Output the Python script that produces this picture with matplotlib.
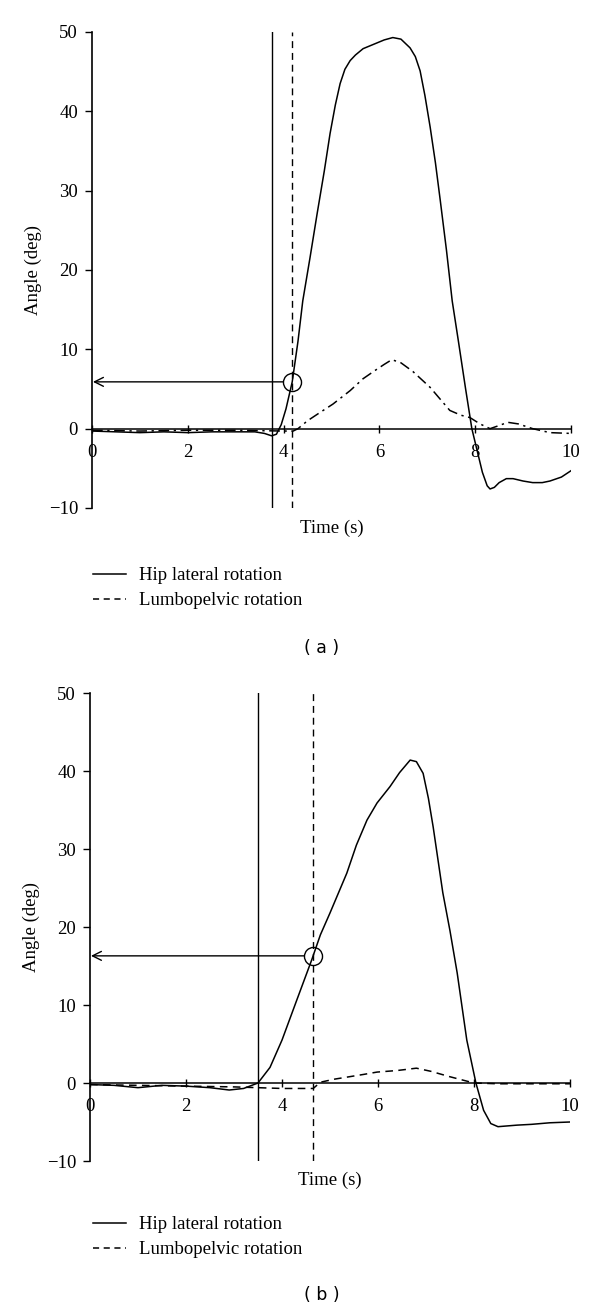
import numpy as np
import matplotlib.pyplot as plt
from matplotlib.lines import Line2D

plt.rcParams['font.family'] = ['Liberation Serif', 'DejaVu Serif']

## panel (a) data
t_hip_a = [0, 0.5, 1.0, 1.5, 2.0, 2.5, 3.0, 3.4, 3.6, 3.75, 3.85, 3.95, 4.05, 4.18, 4.3,
           4.4, 4.55, 4.7, 4.85, 4.97, 5.08, 5.18, 5.28, 5.39, 5.5, 5.66, 5.9, 6.1, 6.28,
           6.45, 6.64, 6.75, 6.85, 6.95, 7.06, 7.17, 7.27, 7.4, 7.52, 7.65, 7.8, 7.93,
           8.05, 8.15, 8.25, 8.31, 8.4, 8.5, 8.65, 8.79, 9.0, 9.2, 9.4, 9.56, 9.8, 10]
hip_a = [-0.3, -0.4, -0.5, -0.4, -0.5, -0.4, -0.4, -0.4, -0.6, -0.9, -0.7, 0.5, 2.5, 5.9,
         11, 16.1, 21.5, 27.1, 32.5, 37.2, 40.8, 43.5, 45.3, 46.4, 47.1, 47.9, 48.5, 49.0,
         49.3, 49.1, 48.0, 46.9, 45.1, 42.0, 38.0, 33.5, 28.8, 22.5, 16.1, 11, 5, 0, -3,
         -5.5, -7.2, -7.6, -7.4, -6.8, -6.3, -6.3, -6.6, -6.8, -6.8, -6.6, -6.1, -5.3]
t_lum_a = [0, 1, 2, 3, 4, 4.2, 4.3, 4.5, 4.75, 5.03, 5.39, 5.66, 5.9, 6.1, 6.26, 6.45, 6.7,
           7.06, 7.3, 7.47, 7.7, 7.89, 8.1, 8.31, 8.5, 8.68, 8.9, 9.2, 9.56, 10]
lum_a = [-0.2, -0.3, -0.2, -0.2, -0.3, -0.3, 0, 1.0, 2.0, 3.1, 4.8, 6.3, 7.3, 8.1, 8.7,
         8.3, 7.2, 5.2, 3.5, 2.3, 1.7, 1.4, 0.6, 0, 0.4, 0.8, 0.6, 0, -0.5, -0.6]
onset_hip_a = 3.76
onset_lum_a = 4.18
hip_at_onset_a = 5.9

## panel (b) data
t_hip_b = [0, 0.5, 1.0, 1.5, 2.0, 2.5, 2.9, 3.2, 3.5, 3.75, 4.0, 4.3, 4.62, 4.8, 5.0, 5.35,
           5.55, 5.77, 5.98, 6.25, 6.45, 6.67, 6.8, 6.94, 7.05, 7.15, 7.35, 7.5, 7.65, 7.85,
           8.04, 8.2, 8.35, 8.5, 8.7, 8.9, 9.2, 9.58, 10]
hip_b = [-0.2, -0.3, -0.6, -0.3, -0.4, -0.6, -0.9, -0.7, 0, 2.0, 5.5, 10.5, 15.8, 19, 21.8,
         26.9, 30.5, 33.7, 35.9, 38.0, 39.8, 41.4, 41.2, 39.7, 36.5, 32.8, 24.4, 19.5, 14.1,
         5.5, 0, -3.5, -5.2, -5.6, -5.5, -5.4, -5.3, -5.1, -5.0]
t_lum_b = [0, 1, 2, 3, 3.5, 4.0, 4.65, 4.8, 5.1, 5.4, 5.7, 5.98, 6.4, 6.8, 7.1, 7.5, 8.0,
           8.5, 9, 10]
lum_b = [-0.2, -0.3, -0.4, -0.5, -0.6, -0.7, -0.7, 0.1, 0.5, 0.8, 1.1, 1.4, 1.6, 1.9, 1.5,
         0.8, 0, -0.1, -0.1, -0.1]
onset_hip_b = 3.5
onset_lum_b = 4.65
hip_at_onset_b = 16.3

xticks = [0, 2, 4, 6, 8, 10]
yticks = [-10, 0, 10, 20, 30, 40, 50]

W, H = 600, 1311
fig = plt.figure(figsize=(W / 100, H / 100), dpi=100)


def px_axes(x0, x1, ytop, ybot):
    return fig.add_axes([x0 / W, 1 - ybot / H, (x1 - x0) / W, (ybot - ytop) / H])


def draw_panel(ax, t_hip, hip, t_lum, lum, lum_style, on_hip, on_lum, y_on, tag, leg_y, tag_y):
    ax.set_xlim(0, 10)
    ax.set_ylim(-10, 50)
    ax.plot(t_hip, hip, color='black', lw=1.1)
    ax.plot(t_lum, lum, color='black', lw=1.1, linestyle=lum_style)
    ax.axvline(on_hip, color='black', lw=1.0)
    ax.axvline(on_lum, color='black', lw=1.0, linestyle=(0, (5, 3.5)))
    # circle at onset + arrow to the y axis
    ax.plot([on_lum], [y_on], marker='o', ms=13, mfc='none', mec='black', mew=1.0)
    ax.annotate('', xy=(0.02, y_on), xytext=(on_lum - 0.19, y_on),
                arrowprops=dict(arrowstyle='->', color='black', lw=1.0,
                                shrinkA=0, shrinkB=0, mutation_scale=16))
    for s in ['top', 'right']:
        ax.spines[s].set_visible(False)
    ax.spines['bottom'].set_position(('data', 0))
    ax.spines['left'].set_linewidth(1.2)
    ax.spines['bottom'].set_linewidth(1.1)
    ax.set_xticks(xticks)
    ax.set_yticks(yticks)
    ax.set_yticklabels([u'\u221210' if v < 0 else str(v) for v in yticks])
    ax.tick_params(axis='y', direction='out', length=5, width=1.0, pad=5, labelsize=13.5)
    ax.tick_params(axis='x', direction='inout', length=6, width=1.0, pad=8, labelsize=13.5)
    ax.text(-0.123, 0.5, 'Angle (deg)', rotation=90, ha='center', va='center',
            fontsize=13.5, transform=ax.transAxes)
    ax.text(0.5, -0.042, 'Time (s)', ha='center', va='center', fontsize=13.5,
            transform=ax.transAxes)
    handles = [Line2D([], [], color='black', lw=1.1),
               Line2D([], [], color='black', lw=1.1, linestyle=(0, (4, 3)))]
    fig.legend(handles, ['Hip lateral rotation', 'Lumbopelvic rotation'],
               loc='upper left', bbox_to_anchor=(93 / W, 1 - leg_y / H),
               frameon=False, fontsize=13.5, handlelength=1.75, handletextpad=0.7,
               labelspacing=0.42, borderpad=0, borderaxespad=0)
    fig.text(322 / W, 1 - tag_y / H, tag, ha='center', va='center',
             fontsize=12.5, family='DejaVu Sans')


ax_a = px_axes(92, 571, 32, 508)
draw_panel(ax_a, t_hip_a, hip_a, t_lum_a, lum_a, (0, (7, 3, 1.5, 3)), onset_hip_a,
           onset_lum_a, hip_at_onset_a, '( a )', 567, 648)

ax_b = px_axes(90, 570, 693, 1161)
draw_panel(ax_b, t_hip_b, hip_b, t_lum_b, lum_b, (0, (5, 3.5)), onset_hip_b, onset_lum_b,
           hip_at_onset_b, '( b )', 1216, 1295)

fig.savefig('out.png', dpi=100)
